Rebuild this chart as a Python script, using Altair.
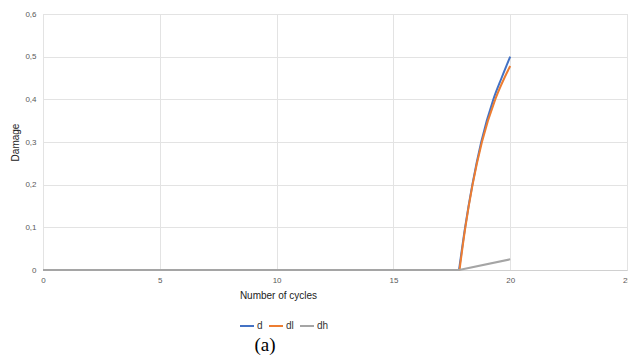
import altair as alt
import pandas as pd

# values (cycles, damage)
d_cycles = [0, 17.81, 18.07, 18.38, 18.76, 19.28, 19.63, 20]
d_vals = [0, 0, 0.1, 0.2, 0.3, 0.4, 0.45, 0.5]
dl_cycles = [0, 17.83, 18.08, 18.39, 18.79, 19.36, 19.75, 20]
dl_vals = [0, 0, 0.1, 0.2, 0.3, 0.4, 0.45, 0.478]
dh_cycles = [0, 17.81, 20]
dh_vals = [0, 0, 0.025]

series = ["d", "dl", "dh"]
colors = ["#4472C4", "#ED7D31", "#A5A5A5"]

flat_rows, curve_rows = [], []
for name, xs, ys in [("d", d_cycles, d_vals), ("dl", dl_cycles, dl_vals), ("dh", dh_cycles, dh_vals)]:
    for i, (x, y) in enumerate(zip(xs, ys)):
        if i <= 1:
            flat_rows.append({"series": name, "i": i, "cycles": x, "damage": y})
        if i >= 1:
            curve_rows.append({"series": name, "i": i, "cycles": x, "damage": y})
flat_df = pd.DataFrame(flat_rows)
curve_df = pd.DataFrame(curve_rows)

xenc = alt.X("cycles:Q",
             scale=alt.Scale(domain=[0, 25], nice=False),
             axis=alt.Axis(title="Number of cycles", values=[0, 5, 10, 15, 20, 25],
                           ticks=False, labelPadding=6, labelFontSize=8, labelColor="#595959",
                           labelFont="Liberation Sans", gridColor="#e3e3e3", domainColor="#d0d0d0",
                           titleFont="Liberation Sans", titleFontSize=10, titleFontWeight="normal",
                           titleColor="#222222", titleX=235, titleY=20, labelFlush=False))
yenc = alt.Y("damage:Q",
             scale=alt.Scale(domain=[0, 0.6], nice=False),
             axis=alt.Axis(title="Damage", values=[0, 0.1, 0.2, 0.3, 0.4, 0.5, 0.6],
                           labelExpr="datum.value == 0 ? '0' : replace(format(datum.value, '.1f'), '.', ',')",
                           ticks=False, labelPadding=7, labelFontSize=8, labelColor="#595959",
                           labelFont="Liberation Sans", gridColor="#e3e3e3", domain=False,
                           titleFont="Liberation Sans", titleFontSize=10, titleFontWeight="normal",
                           titleColor="#222222", titleX=-23, titleY=128, labelFlush=False))
cenc = alt.Color("series:N", scale=alt.Scale(domain=series, range=colors),
                 legend=alt.Legend(title=None, orient="none", direction="horizontal",
                                   legendX=196, legendY=304, symbolType="stroke",
                                   symbolStrokeWidth=2, symbolSize=196, labelFontSize=10,
                                   labelFont="Liberation Sans", labelColor="#333333",
                                   columnPadding=2, labelOffset=2))

curves = alt.Chart(curve_df).transform_filter("datum.series != 'dh'").mark_line(
    strokeWidth=2, interpolate="monotone").encode(
    x=xenc, y=yenc, color=cenc, order=alt.Order("i:Q"), detail="series:N")

dh_line = alt.Chart(curve_df).transform_filter("datum.series == 'dh'").mark_line(
    strokeWidth=2, interpolate="linear").encode(
    x=xenc, y=yenc, color=cenc, order=alt.Order("i:Q"), detail="series:N")

flats = alt.Chart(flat_df).mark_line(strokeWidth=2, interpolate="linear").encode(
    x=xenc, y=yenc, color=cenc, order=alt.Order("i:Q"), detail="series:N")

caption = alt.Chart(pd.DataFrame({"t": ["(a)"]})).mark_text(
    font="Liberation Serif", fontSize=19, color="#000000", align="center", baseline="middle"
).encode(x=alt.value(222), y=alt.value(331), text="t:N")

chart = alt.layer(curves, flats, dh_line, caption).properties(
    width=584, height=256,
    autosize=alt.AutoSizeParams(type="none"),
    padding={"left": 43, "top": 14, "right": 1, "bottom": 86},
).configure_view(stroke=None).configure(background="white")

chart.save("out.html", embed_options={"renderer": "svg", "actions": False})
